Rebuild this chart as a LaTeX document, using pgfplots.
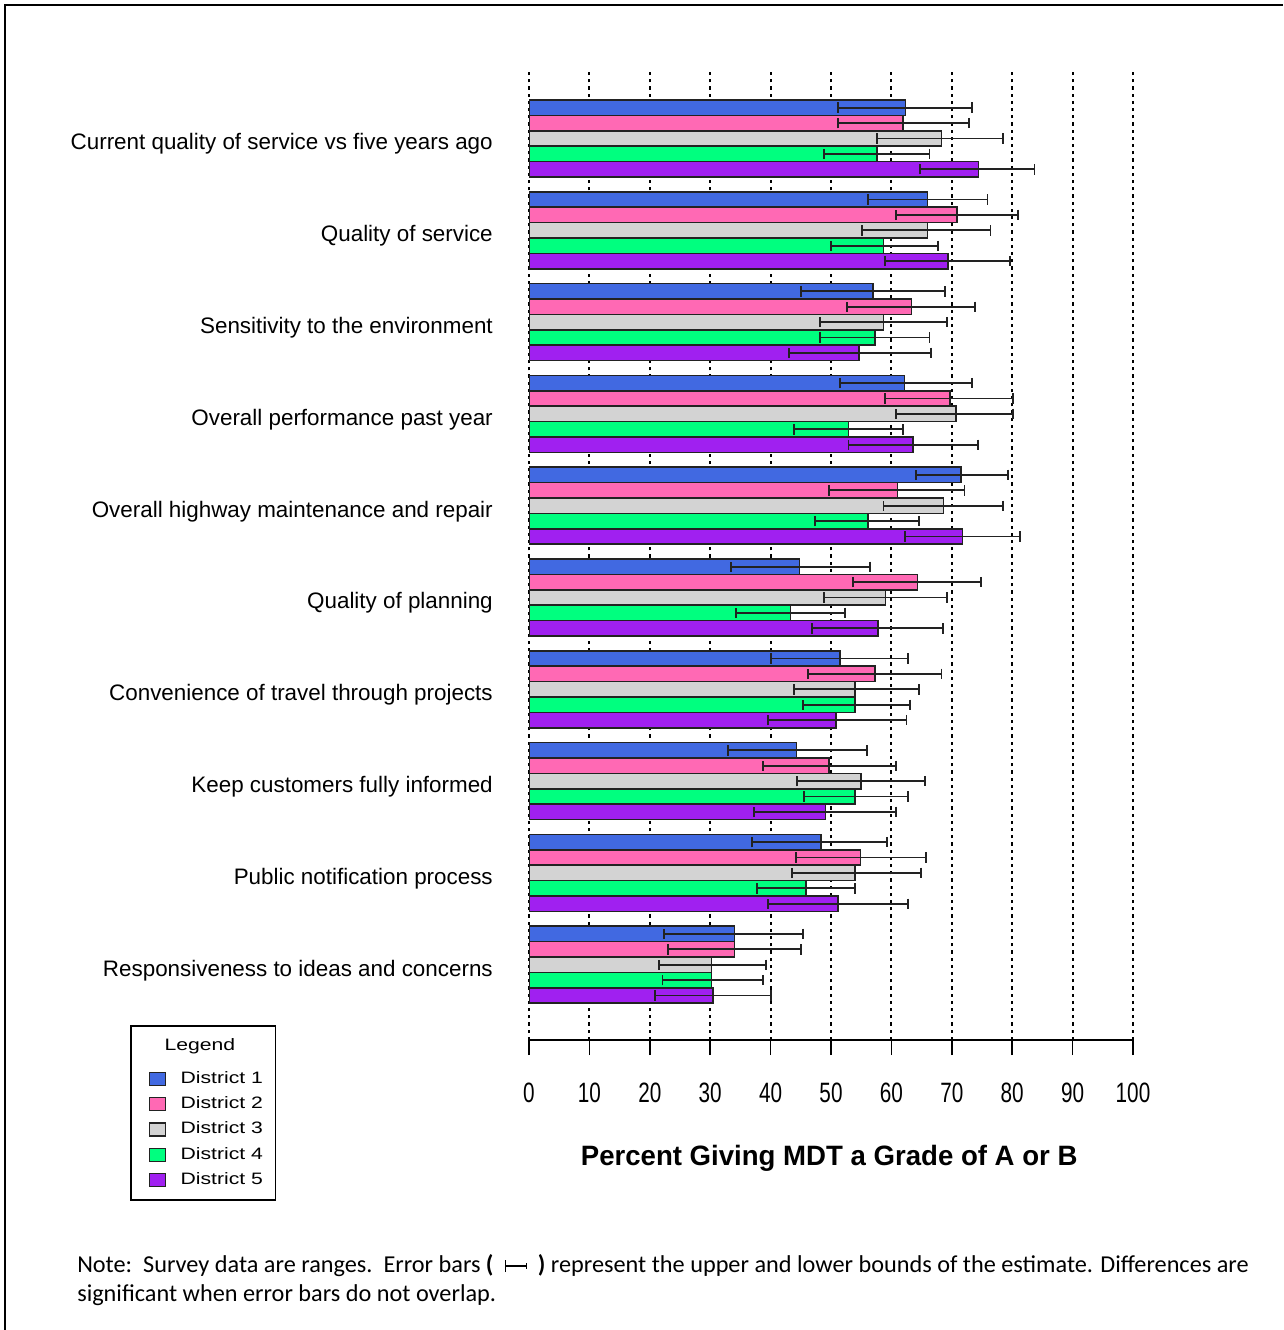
\documentclass[border=0pt]{standalone}
\usepackage{pgfplots}
\pgfplotsset{compat=1.18}
\usepackage{pgfplotstable}
\usepackage{graphicx}
\usepackage{fontspec}
\setmainfont{Liberation Sans}
\newfontfamily\notefont{Carlito}

\definecolor{d1}{RGB}{65,105,225}
\definecolor{d2}{RGB}{255,105,180}
\definecolor{d3}{RGB}{211,211,211}
\definecolor{d4}{RGB}{0,255,127}
\definecolor{d5}{RGB}{160,32,240}
\definecolor{edge}{RGB}{34,34,34}

% c = item (0 = top row), v = estimate, lo/hi = bounds of the range
\pgfplotstableread{
c v lo hi
0 62.3 51.1 73.3
1 66.0 56.1 75.9
2 57.0 45.0 68.9
3 62.2 51.5 73.3
4 71.5 64.0 79.3
5 44.8 33.4 56.4
6 51.5 40.1 62.8
7 44.3 32.9 55.9
8 48.3 36.9 59.3
9 34.0 22.4 45.4
}\districtA
\pgfplotstableread{
c v lo hi
0 61.9 51.1 72.8
1 70.9 60.7 81.0
2 63.3 52.6 73.8
3 69.7 59.0 80.2
4 61.0 49.7 72.1
5 64.3 53.7 74.8
6 57.3 46.2 68.3
7 49.7 38.7 60.8
8 54.9 44.2 65.7
9 34.0 23.0 45.1
}\districtB
\pgfplotstableread{
c v lo hi
0 68.3 57.6 78.5
1 66.0 55.1 76.4
2 58.7 48.2 69.2
3 70.7 60.7 80.2
4 68.6 58.7 78.5
5 59.0 48.8 69.2
6 54.0 43.9 64.5
7 55.0 44.4 65.5
8 54.0 43.6 64.9
9 30.2 21.5 39.3
}\districtC
\pgfplotstableread{
c v lo hi
0 57.6 48.8 66.3
1 58.7 50.0 67.7
2 57.3 48.2 66.3
3 52.9 43.9 61.9
4 56.1 47.3 64.5
5 43.3 34.3 52.3
6 54.0 45.4 63.1
7 54.0 45.6 62.8
8 45.9 37.8 54.0
9 30.2 22.1 38.7
}\districtD
\pgfplotstableread{
c v lo hi
0 74.4 64.8 83.7
1 69.4 59.0 79.6
2 54.6 43.0 66.6
3 63.6 52.9 74.4
4 71.8 62.2 81.3
5 57.8 46.8 68.6
6 50.8 39.5 62.5
7 49.1 37.2 60.7
8 51.2 39.5 62.8
9 30.5 20.9 40.1
}\districtE

\newcommand\tklab[1]{\scalebox{0.74}[1]{#1}}
\newcommand\legtxt[1]{\scalebox{1.28}[1]{#1}\hspace*{-7pt}}
\newcommand\ebar{\rule{0.9pt}{9pt}\rule[4.1pt]{15pt}{0.9pt}\rule[2.3pt]{0.9pt}{4.5pt}}

\pgfplotsset{
  legbox/.style={legend image code/.code={%
    \draw[##1, line width=0.9pt] (0pt,-4.875pt) rectangle (12pt,4.875pt);}},
  district/.style={xbar, bar shift=0pt, bar width=15.4,
    fill=#1, draw=edge, line width=1.2pt, legbox,
    error bars/.cd, x dir=both, x explicit, error mark=|,
    error bar style={line width=1.4pt, edge},
    error mark options={line width=1.4pt, edge, mark size=3.9pt}},
}

\begin{document}
\begin{tikzpicture}
\useasboundingbox (0,0) rectangle (962.25pt,-997.5pt);
\draw[line width=1.6pt] (3.75pt,-997.5pt) -- (3.75pt,-3.75pt) -- (962.25pt,-3.75pt);
\begin{axis}[
  at={(396.75pt,-780pt)}, anchor=south west,
  scale only axis, width=453pt, height=727.5pt,
  xmin=0, xmax=100, ymin=-1040, ymax=-70,
  axis x line*=bottom, axis y line*=left,
  axis line style={-, line width=1.2pt, black},
  y axis line style={draw=none},
  xtick={0,10,...,100},
  xticklabels={\tklab{0},\tklab{10},\tklab{20},\tklab{30},\tklab{40},\tklab{50},\tklab{60},\tklab{70},\tklab{80},\tklab{90},\tklab{100}},
  tick align=outside,
  major tick length=11.25pt,
  xtick style={line width=1.2pt, black},
  ytick style={draw=none},
  xmajorgrids,
  major grid style={black, line width=1.45pt, dash pattern=on 2.4pt off 3pt},
  xticklabel style={font=\fontsize{21}{21}\selectfont, anchor=base, yshift=-35.5pt},
  ytick={-964.7,-872.9,-781.1,-689.3,-597.5,-505.7,-413.9,-322.1,-230.3,-138.5},
  yticklabels={Responsiveness to ideas and concerns,
    Public notification process,
    Keep customers fully informed,
    Convenience of travel through projects,
    Quality of planning,
    Overall highway maintenance and repair,
    Overall performance past year,
    Sensitivity to the environment,
    Quality of service,
    Current quality of service vs five years ago},
  yticklabel style={font=\fontsize{16.8}{19}\selectfont, anchor=base east,
    inner sep=0pt, xshift=-15.75pt, yshift=-8.6pt},
  xlabel={\scalebox{0.985}[1]{\bfseries Percent Giving MDT a Grade of A or B}},
  xlabel style={at={(axis description cs:0.497,-0.1216)}, anchor=center,
    font=\fontsize{21}{24}\selectfont},
  legend cell align=left,
  legend style={at={(axis description cs:-0.6606,0.0155)}, anchor=north west,
    draw=black, line width=1.2pt, inner xsep=13.5pt, inner ysep=5.5pt,
    column sep=8pt, font=\fontsize{12.4}{14}\selectfont,
    nodes={inner xsep=3pt, inner ysep=3.7pt, text height=9pt, text depth=2.6pt}},
]
\addlegendimage{empty legend}
\addlegendentry[text depth=8.35pt]{\hspace*{-12pt}\scalebox{1.28}[1]{Legend}}

\addplot[district=d1] table[x=v, y expr={-(107.7+91.8*\thisrow{c})},
  x error plus expr={\thisrow{hi}-\thisrow{v}},
  x error minus expr={\thisrow{v}-\thisrow{lo}}] {\districtA};
\addlegendentry{\legtxt{District 1}}

\addplot[district=d2] table[x=v, y expr={-(123.1+91.8*\thisrow{c})},
  x error plus expr={\thisrow{hi}-\thisrow{v}},
  x error minus expr={\thisrow{v}-\thisrow{lo}}] {\districtB};
\addlegendentry{\legtxt{District 2}}

\addplot[district=d3] table[x=v, y expr={-(138.5+91.8*\thisrow{c})},
  x error plus expr={\thisrow{hi}-\thisrow{v}},
  x error minus expr={\thisrow{v}-\thisrow{lo}}] {\districtC};
\addlegendentry{\legtxt{District 3}}

\addplot[district=d4] table[x=v, y expr={-(153.9+91.8*\thisrow{c})},
  x error plus expr={\thisrow{hi}-\thisrow{v}},
  x error minus expr={\thisrow{v}-\thisrow{lo}}] {\districtD};
\addlegendentry{\legtxt{District 4}}

\addplot[district=d5] table[x=v, y expr={-(169.3+91.8*\thisrow{c})},
  x error plus expr={\thisrow{hi}-\thisrow{v}},
  x error minus expr={\thisrow{v}-\thisrow{lo}}] {\districtE};
\addlegendentry{\legtxt{District 5}}
\end{axis}
\node[anchor=base west, inner sep=0pt, align=left,
  font=\notefont\fontsize{18.2}{21.75}\selectfont] at (57.75pt,-975.75pt)
  {Note:\ \ Survey data are ranges.\ \ Error bars {\bfseries(}\ \ \ebar\ \ {\bfseries)} represent the upper and lower bounds of the estimate. Differences are\\significant when error bars do not overlap.};
\end{tikzpicture}
\end{document}
